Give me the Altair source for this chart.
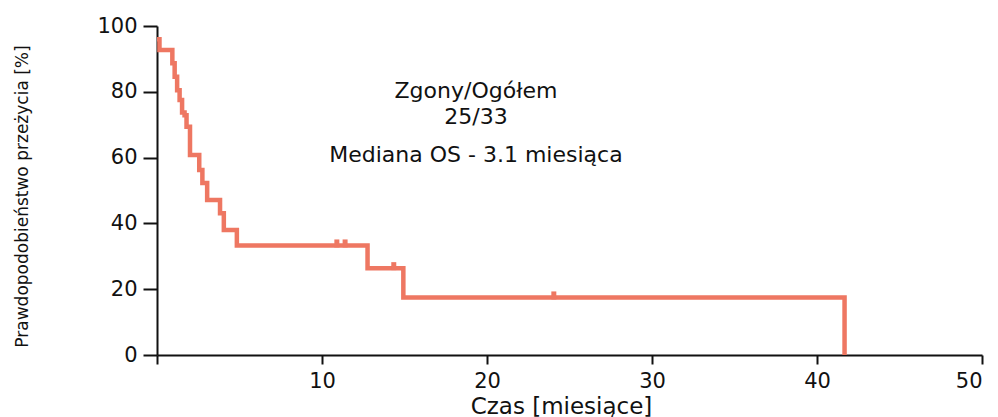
import altair as alt
import pandas as pd

# Kaplan-Meier step curve: time of each step (months) and survival after it (%)
times = [0, 0.15, 0.93, 1.07, 1.22, 1.37, 1.52, 1.67, 1.79, 2.0, 2.56, 2.75,
         3.04, 3.82, 4.05, 4.84, 12.76, 14.93, 41.67]
survival = [96.0, 92.7, 88.7, 84.6, 80.5, 77.5, 73.7, 72.9, 69.4, 60.8, 56.2,
            52.3, 47.1, 43.1, 38.0, 33.3, 26.4, 17.5, 0.0]

# Censored observations
censor_times = [10.9, 11.4, 14.35, 24.05]
censor_survival = [33.3, 33.3, 26.4, 17.5]

# Annotation block
note_lines = ["Zgony/Ogółem", "25/33", "Mediana OS - 3.1 miesiąca"]
note_x = [19.33, 19.33, 19.33]
note_y = [80.3, 72.4, 60.8]

x_ticks = [0, 10, 20, 30, 40, 50]
y_ticks = [0, 20, 40, 60, 80, 100]

FONT = "DejaVu Sans"
LINE_COLOR = "#EE7762"
INK = "#111111"

curve_df = pd.DataFrame({"t": times, "s": survival})
censor_df = pd.DataFrame({"t": censor_times, "s": censor_survival})
note_df = pd.DataFrame({"t": note_x, "s": note_y, "label": note_lines})

x_scale = alt.Scale(domain=[0, 50], nice=False, zero=False)
y_scale = alt.Scale(domain=[0, 100], nice=False, zero=False)

x_axis = alt.Axis(
    values=x_ticks,
    labelExpr="datum.value == 0 ? '' : datum.label",
    title="Czas [miesiące]",
    titleX=404,
    titleY=51,
    titleAlign="center",
    titleBaseline="middle",
    titleFont=FONT,
    titleFontSize=23,
    titleFontWeight="normal",
    titleColor=INK,
    labelFont=FONT,
    labelFontSize=21,
    labelColor=INK,
    labelPadding=6,
    tickSize=9,
    tickWidth=2,
    tickColor=INK,
    domainColor=INK,
    domainWidth=2,
    grid=False,
)

y_axis = alt.Axis(
    values=y_ticks,
    title="Prawdopodobieństwo przeżycia [%]",
    titleX=-135,
    titleY=170,
    titleAngle=-90,
    titleAlign="center",
    titleBaseline="middle",
    titleFont=FONT,
    titleFontSize=17,
    titleFontWeight="normal",
    titleColor=INK,
    labelFont=FONT,
    labelFontSize=21,
    labelColor=INK,
    labelPadding=6,
    tickSize=14,
    tickWidth=2,
    tickColor=INK,
    domainColor=INK,
    domainWidth=2,
    grid=False,
)

curve = alt.Chart(curve_df).mark_line(
    interpolate="step-after", color=LINE_COLOR, strokeWidth=4.5
).encode(
    x=alt.X("t:Q", scale=x_scale, axis=x_axis),
    y=alt.Y("s:Q", scale=y_scale, axis=y_axis),
)

censors = alt.Chart(censor_df).mark_tick(
    orient="vertical", color=LINE_COLOR, size=8, thickness=5, yOffset=-2, opacity=1
).encode(
    x=alt.X("t:Q", scale=x_scale),
    y=alt.Y("s:Q", scale=y_scale),
)

notes = alt.Chart(note_df).mark_text(
    font=FONT, fontSize=22, color=INK, align="center", baseline="middle"
).encode(
    x=alt.X("t:Q", scale=x_scale),
    y=alt.Y("s:Q", scale=y_scale),
    text="label:N",
)

chart = alt.layer(curve, censors, notes).properties(
    width=825,
    height=329,
    autosize=alt.AutoSizeParams(type="none"),
    padding={"left": 157, "top": 26, "right": 16, "bottom": 62},
    background="white",
).configure_view(stroke=None)

chart.save("out.html", embed_options={"renderer": "svg", "actions": False})
